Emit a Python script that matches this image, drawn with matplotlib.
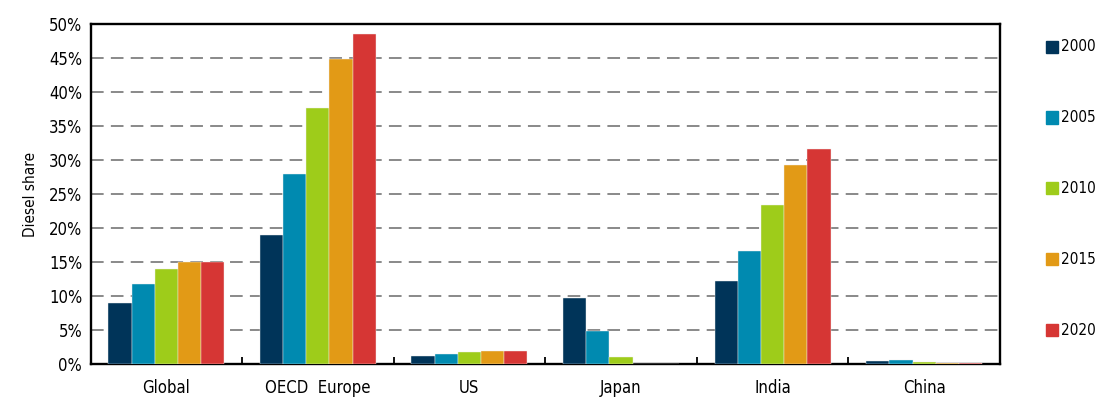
import numpy as np
import matplotlib.pyplot as plt
from matplotlib.ticker import PercentFormatter
from matplotlib.patches import Rectangle

plt.rcParams['font.family'] = ['DejaVu Sans']
plt.rcParams['font.stretch'] = 'condensed'

regions = ['Global', 'OECD  Europe', 'US', 'Japan', 'India', 'China']
years = ['2000', '2005', '2010', '2015', '2020']
colors = ['#003459', '#008ab0', '#9ecc1a', '#e29a16', '#d63634']

# diesel share (%) per year, one value per region
share_2000 = [9.0, 18.9, 1.2, 9.7, 12.2, 0.5]
share_2005 = [11.7, 28.0, 1.5, 4.8, 16.6, 0.55]
share_2010 = [13.9, 37.7, 1.8, 1.0, 23.4, 0.3]
share_2015 = [15.0, 44.8, 1.85, 0.0, 29.3, 0.15]
share_2020 = [15.0, 48.5, 1.85, 0.0, 31.6, 0.1]
series = [share_2000, share_2005, share_2010, share_2015, share_2020]

fig = plt.figure(figsize=(10.97, 4.01), dpi=100)
ax = fig.add_axes([0.0825, 0.0923, 0.829, 0.848])

x = np.arange(len(regions))
w = 0.153
for i, vals in enumerate(series):
    ax.bar(x + (i - 2) * w, vals, width=w, color=colors[i],
           edgecolor='#f0f0f0', linewidth=0.3, zorder=3)

ax.set_xlim(-0.5, len(regions) - 0.5)
ax.set_ylim(0, 50)
ax.set_yticks(np.arange(0, 51, 5))
ax.yaxis.set_major_formatter(PercentFormatter(decimals=0))
ax.yaxis.grid(True, linestyle=(0, (7, 4)), color='#808080', linewidth=1.3, zorder=0)
ax.tick_params(axis='y', length=0, labelsize=12, pad=6)

# category labels in the middle, tick marks at the group boundaries
ax.set_xticks(x)
ax.set_xticklabels(regions, fontsize=12)
ax.tick_params(axis='x', length=0, pad=11)
ax.set_xticks(np.arange(0.5, len(regions) - 1), minor=True)
ax.tick_params(axis='x', which='minor', direction='in', length=5, width=1.3)

for s in ax.spines.values():
    s.set_linewidth(1.7)

ax.set_ylabel('Diesel share', fontsize=11, labelpad=8)

# legend on the right, spaced down the full height
for i, yr in enumerate(years):
    yy = 0.883 - i * 0.177
    fig.patches.append(Rectangle((0.9535, yy - 0.014), 0.011, 0.03, color=colors[i],
                                 transform=fig.transFigure, figure=fig))
    fig.text(0.967, yy, yr, fontsize=11, va='center', ha='left')

fig.savefig('out.png', dpi=100)
